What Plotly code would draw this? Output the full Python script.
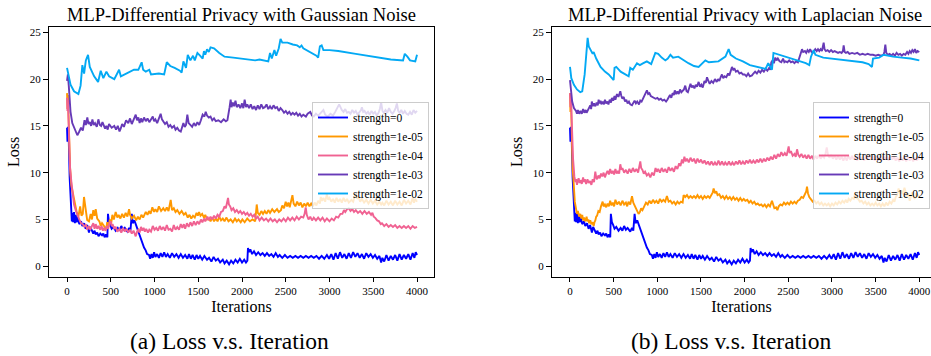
import plotly.graph_objects as go

# ---------------- data ----------------
labels = ["strength=0", "strength=1e-05", "strength=1e-04", "strength=1e-03", "strength=1e-02"]
colors = ["#0000FF", "#FF9800", "#F06292", "#673AB7", "#03A9F4"]
x_ticks = [0, 500, 1000, 1500, 2000, 2500, 3000, 3500, 4000]
y_ticks = [0, 5, 10, 15, 20, 25]
titles = ["MLP-Differential Privacy with Gaussian Noise", "MLP-Differential Privacy with Laplacian Noise"]
captions = ["(a) Loss v.s. Iteration", "(b) Loss v.s. Iteration"]

# strength=0 (no noise) - same run in both panels: (iteration, loss)
strength0 = [(0,14.8),(5,13.3),(10,14.9),(20,13.5),(30,9.5),(45,5.8),(55,4.8),(61,5.7),(70,4.7),(80,5.8),(90,4.6),(99,5.5),(110,4.7),(120,5.3),(140,4.5),(160,4.8),(175,4.3),(195,4.6),(213,4.0),(230,4.4),(251,3.6),(265,4.2),(280,3.8),(300,3.5),(315,3.8),(328,3.4),(345,3.6),(360,3.2),(380,3.5),(400,3.3),(415,3.5),(430,3.1),(445,3.4),(461,3.1),(468,5.6),(480,4.7),(495,4.4),(510,4.0),(530,4.2),(556,3.8),(580,4.1),(600,3.8),(620,4.3),(640,3.9),(660,4.1),(690,3.7),(710,4.1),(725,3.8),(740,5.6),(752,4.6),(770,4.9),(792,4.3),(810,4.0),(823,3.5),(845,3.0),(861,2.6),(880,2.0),(899,1.7),(915,1.3),(937,1.2),(950,0.8),(965,1.3),(980,0.9),(995,1.5),(1010,1.0),(1030,1.3),(1050,0.9),(1070,1.4),(1090,1.0),(1110,1.5),(1130,1.0),(1150,1.3),(1175,0.9),(1200,1.4),(1225,1.0),(1250,1.3),(1275,0.9),(1300,1.3),(1325,0.9),(1350,1.2),(1375,0.8),(1394,1.3),(1415,0.8),(1435,1.2),(1460,0.7),(1480,1.2),(1500,0.8),(1520,1.1),(1545,0.7),(1570,1.1),(1600,0.7),(1623,0.9),(1650,0.5),(1675,1.0),(1700,0.6),(1725,0.8),(1750,0.4),(1780,0.7),(1800,0.3),(1825,0.6),(1852,0.2),(1875,0.6),(1900,0.3),(1925,0.7),(1950,0.4),(1975,0.8),(2000,0.4),(2025,0.7),(2045,0.4),(2061,0.6),(2068,1.95),(2080,1.5),(2095,1.8),(2115,1.3),(2137,1.6),(2160,1.2),(2185,1.5),(2210,1.2),(2235,1.4),(2260,1.1),(2285,1.4),(2310,1.1),(2335,1.3),(2360,1.0),(2385,1.4),(2410,1.0),(2430,1.2),(2460,0.9),(2490,1.2),(2520,0.9),(2550,1.1),(2580,0.9),(2610,1.1),(2640,0.9),(2670,1.1),(2700,0.9),(2730,1.1),(2760,0.9),(2790,1.1),(2820,0.9),(2850,1.1),(2880,0.8),(2910,1.1),(2940,0.8),(2970,1.2),(2995,0.8),(3020,1.3),(3045,0.7),(3070,1.4),(3095,0.8),(3120,1.5),(3145,0.9),(3170,1.3),(3195,0.8),(3220,1.4),(3245,0.9),(3270,1.5),(3295,1.0),(3320,1.4),(3345,0.9),(3370,1.3),(3395,0.8),(3420,1.4),(3445,1.0),(3470,1.3),(3495,0.9),(3520,1.2),(3545,0.8),(3570,1.1),(3590,0.4),(3604,0.9),(3625,0.5),(3650,1.2),(3675,0.6),(3700,1.1),(3725,0.7),(3750,1.2),(3775,0.6),(3800,1.3),(3825,0.7),(3850,1.2),(3875,0.8),(3900,1.3),(3925,0.7),(3950,1.4),(3970,0.9),(3985,1.5),(4000,1.2)]

gauss_1e05 = [(0,18.5),(5,16.8),(10,18.3),(20,14.5),(35,10.5),(50,8.6),(70,7.6),(91,6.7),(110,5.8),(130,5.3),(150,6.4),(165,5.4),(180,5.6),(194,7.4),(210,6.0),(230,4.95),(251,4.8),(270,5.6),(285,5.0),(300,6.0),(315,5.4),(328,6.1),(345,5.1),(370,4.8),(385,4.3),(400,4.6),(423,4.3),(445,3.9),(460,4.7),(475,4.2),(490,5.0),(505,4.6),(518,5.5),(535,5.0),(556,5.8),(575,5.2),(590,5.5),(610,5.1),(630,5.6),(650,5.2),(670,5.7),(690,5.3),(709,6.1),(720,5.5),(740,5.1),(766,5.4),(790,4.9),(810,5.3),(830,5.0),(850,5.5),(870,5.2),(900,5.8),(920,5.5),(937,5.9),(955,5.6),(975,6.3),(995,5.8),(1010,6.1),(1030,5.8),(1050,6.4),(1075,5.9),(1100,6.2),(1120,5.9),(1140,6.3),(1160,5.9),(1185,7.1),(1200,6.0),(1220,6.2),(1240,5.8),(1260,6.0),(1285,5.6),(1310,5.9),(1335,5.5),(1356,5.7),(1380,5.2),(1400,5.5),(1420,5.1),(1440,5.4),(1460,5.2),(1480,5.7),(1495,5.4),(1509,5.8),(1525,5.4),(1545,5.6),(1565,5.2),(1580,5.5),(1600,5.0),(1623,5.1),(1640,4.8),(1660,5.2),(1680,4.8),(1700,5.1),(1720,4.8),(1740,5.3),(1760,4.9),(1780,5.1),(1800,4.8),(1820,5.2),(1845,4.8),(1870,5.0),(1895,4.7),(1920,5.1),(1940,4.8),(1960,5.0),(1985,4.7),(2004,5.0),(2030,4.7),(2060,5.1),(2090,4.8),(2120,5.0),(2150,4.8),(2168,6.6),(2180,5.7),(2200,5.5),(2220,5.9),(2240,5.6),(2260,5.9),(2280,5.6),(2300,6.0),(2320,5.7),(2345,6.1),(2370,5.8),(2400,6.1),(2420,5.8),(2445,6.0),(2460,6.5),(2480,6.2),(2499,6.9),(2515,6.4),(2530,6.8),(2545,6.3),(2560,7.0),(2576,7.6),(2590,6.7),(2610,6.4),(2630,6.9),(2650,6.5),(2670,6.8),(2690,6.3),(2710,6.7),(2730,6.4),(2750,6.8),(2770,6.4),(2790,6.7),(2810,6.4),(2830,6.8),(2850,6.5),(2870,7.0),(2890,6.7),(2900,7.4),(2915,7.0),(2930,7.3),(2950,6.9),(2970,7.7),(2985,7.1),(3000,7.3),(3020,6.9),(3040,7.2),(3060,6.8),(3080,7.3),(3100,6.9),(3120,7.2),(3140,6.8),(3160,7.3),(3180,6.9),(3200,7.2),(3220,6.8),(3250,7.1),(3270,6.9),(3300,7.8),(3315,7.2),(3330,7.4),(3350,6.9),(3370,7.2),(3395,6.8),(3420,7.1),(3445,6.7),(3470,7.1),(3495,6.7),(3520,7.0),(3545,6.6),(3570,6.9),(3590,6.6),(3604,6.8),(3625,6.5),(3650,7.0),(3675,6.6),(3700,6.9),(3725,6.5),(3750,7.0),(3775,6.6),(3800,6.9),(3825,6.5),(3850,7.1),(3875,6.7),(3900,7.0),(3925,6.6),(3950,7.3),(3965,6.8),(3980,7.2),(4000,6.9)]

gauss_1e04 = [(0,18.0),(5,16.6),(10,17.8),(20,14.0),(35,10.5),(50,9.0),(65,7.6),(80,6.6),(99,6.0),(120,5.4),(140,5.0),(160,4.6),(180,4.5),(200,4.2),(216,4.5),(232,3.9),(250,4.3),(265,3.9),(280,4.2),(300,4.6),(315,4.0),(328,4.5),(345,4.0),(360,4.3),(380,3.9),(395,4.3),(410,3.8),(423,4.1),(440,3.8),(455,4.3),(470,4.0),(485,4.6),(500,4.8),(510,4.3),(520,4.5),(540,4.0),(556,4.2),(575,3.7),(600,4.0),(620,3.6),(640,4.1),(660,3.7),(680,4.0),(700,3.6),(720,3.9),(740,3.5),(760,3.8),(785,3.2),(800,3.7),(815,3.9),(830,3.6),(845,4.2),(860,3.8),(875,4.1),(890,3.7),(905,4.0),(925,3.6),(940,3.9),(960,3.7),(980,4.3),(1000,3.9),(1020,4.1),(1040,3.8),(1060,4.3),(1080,3.9),(1100,4.2),(1120,3.8),(1140,4.4),(1160,3.9),(1180,4.0),(1200,3.7),(1220,4.4),(1240,3.9),(1260,4.2),(1280,3.9),(1300,4.5),(1318,4.1),(1335,4.5),(1350,4.0),(1370,4.6),(1390,4.2),(1410,4.7),(1430,4.3),(1450,4.8),(1470,4.4),(1490,4.8),(1510,4.5),(1530,5.0),(1547,4.7),(1565,5.1),(1580,4.8),(1604,5.3),(1620,4.9),(1640,5.3),(1660,5.0),(1680,5.4),(1700,5.1),(1720,5.5),(1740,5.3),(1760,5.8),(1780,5.9),(1800,6.4),(1815,6.2),(1830,6.8),(1840,7.3),(1850,6.6),(1865,6.4),(1880,6.0),(1900,6.2),(1920,5.8),(1940,6.0),(1960,5.7),(1980,5.9),(2000,5.6),(2020,5.8),(2040,5.5),(2060,5.7),(2080,5.4),(2100,5.6),(2120,5.3),(2140,5.5),(2160,5.1),(2180,5.3),(2200,4.9),(2225,5.2),(2250,4.9),(2275,5.1),(2300,4.8),(2325,5.1),(2350,4.8),(2375,5.0),(2400,4.7),(2425,5.0),(2450,4.8),(2475,5.1),(2500,4.8),(2525,5.2),(2550,4.9),(2575,5.2),(2600,4.9),(2625,5.3),(2650,5.0),(2675,5.3),(2700,5.2),(2715,5.6),(2728,6.3),(2740,5.5),(2760,5.0),(2780,5.3),(2800,4.9),(2820,5.2),(2845,4.9),(2870,5.2),(2895,4.9),(2920,5.2),(2945,4.8),(2970,5.1),(3000,4.8),(3025,5.1),(3050,4.9),(3075,5.3),(3100,5.2),(3125,5.6),(3147,5.6),(3165,6.0),(3180,5.8),(3200,6.1),(3220,6.2),(3240,5.9),(3261,6.1),(3280,5.8),(3300,6.0),(3325,5.7),(3350,5.9),(3375,5.6),(3400,5.9),(3425,5.6),(3450,5.8),(3475,5.5),(3490,5.7),(3505,5.3),(3520,5.2),(3545,4.9),(3566,4.8),(3585,4.5),(3600,4.6),(3625,4.3),(3650,4.5),(3675,4.2),(3700,4.4),(3725,4.2),(3750,4.4),(3775,4.1),(3800,4.3),(3825,4.1),(3850,4.3),(3875,4.1),(3900,4.3),(3925,4.0),(3950,4.3),(3975,4.1),(4000,4.2)]

gauss_1e03 = [(0,19.8),(10,20.5),(20,19.3),(40,16.5),(60,15.3),(90,14.6),(118,14.0),(140,14.4),(160,14.8),(180,14.5),(200,15.6),(215,15.1),(232,15.9),(245,15.2),(260,15.4),(275,15.0),(290,15.7),(305,15.1),(320,15.3),(340,14.9),(358,15.7),(375,15.1),(390,15.0),(405,15.4),(420,15.1),(435,14.7),(450,15.0),(465,14.6),(480,15.2),(510,14.8),(540,15.0),(560,14.6),(580,15.0),(600,14.4),(613,14.7),(630,15.2),(650,14.9),(675,15.6),(700,15.3),(720,15.8),(740,15.2),(765,15.7),(785,16.2),(800,15.6),(815,15.9),(830,15.3),(845,15.8),(860,15.4),(880,15.9),(900,15.5),(920,15.8),(940,15.4),(960,15.7),(980,16.0),(995,15.5),(1010,15.7),(1030,15.3),(1050,15.8),(1070,16.3),(1085,15.7),(1100,15.5),(1120,15.2),(1140,15.4),(1160,14.9),(1180,15.1),(1200,14.8),(1223,15.0),(1240,14.6),(1260,14.8),(1280,14.5),(1300,14.4),(1315,14.8),(1330,15.3),(1345,14.9),(1360,15.1),(1375,16.2),(1390,15.3),(1410,15.1),(1430,14.9),(1450,15.3),(1470,15.0),(1490,15.4),(1510,15.1),(1530,15.6),(1550,16.2),(1570,16.0),(1585,16.5),(1600,16.1),(1620,15.9),(1640,16.0),(1660,15.6),(1680,15.8),(1700,15.5),(1730,15.6),(1760,15.4),(1790,15.7),(1815,15.5),(1833,15.6),(1845,16.6),(1858,17.0),(1870,17.8),(1880,17.0),(1895,17.5),(1910,17.1),(1925,17.7),(1940,17.0),(1960,17.3),(1980,16.9),(2000,17.4),(2015,16.9),(2030,17.8),(2045,17.0),(2060,17.3),(2080,16.9),(2100,17.3),(2120,16.8),(2140,17.1),(2160,16.7),(2180,17.2),(2200,16.8),(2220,17.3),(2240,16.9),(2260,17.0),(2280,17.3),(2300,16.8),(2320,17.1),(2340,16.8),(2360,17.2),(2380,16.9),(2400,17.0),(2420,16.6),(2440,16.9),(2460,16.7),(2480,16.4),(2500,16.6),(2520,16.3),(2540,16.5),(2560,16.2),(2580,16.4),(2600,16.2),(2620,16.4),(2640,16.1),(2660,16.3),(2680,16.0),(2700,16.2),(2730,16.0),(2750,16.3),(2780,16.5),(2800,16.1),(2820,16.0),(2845,16.3),(2870,16.1),(2900,16.4),(2930,16.7),(2950,16.2),(2980,16.0),(3010,16.3),(3040,16.1),(3065,16.5),(3090,17.0),(3110,17.3),(3125,17.0),(3140,16.7),(3160,16.5),(3180,16.8),(3200,16.4),(3220,16.5),(3240,16.3),(3260,16.7),(3280,16.4),(3300,16.6),(3320,16.2),(3340,16.4),(3360,16.7),(3370,17.0),(3385,16.5),(3400,16.6),(3420,16.3),(3440,16.5),(3460,16.2),(3480,16.6),(3500,16.3),(3520,16.5),(3540,16.1),(3560,16.4),(3575,16.8),(3590,17.5),(3605,16.6),(3620,16.4),(3640,16.7),(3660,16.4),(3680,16.9),(3700,16.5),(3720,16.3),(3740,16.6),(3755,16.9),(3770,17.4),(3785,16.6),(3800,16.4),(3820,16.7),(3840,16.3),(3860,16.6),(3880,16.3),(3900,16.2),(3920,16.5),(3940,16.2),(3960,16.7),(3980,16.4),(4000,16.6)]

gauss_1e02 = [(0,21.2),(15,20.4),(40,19.4),(80,18.7),(130,18.4),(155,19.3),(175,21.5),(195,20.6),(215,22.0),(240,22.6),(260,21.3),(310,20.3),(355,19.7),(385,20.9),(415,20.1),(450,20.8),(480,20.3),(540,20.0),(595,21.0),(615,20.3),(710,20.7),(765,21.0),(815,21.0),(853,21.8),(870,21.0),(900,20.8),(940,21.0),(960,20.5),(1050,20.6),(1110,20.5),(1140,21.8),(1180,21.4),(1230,21.2),(1290,20.9),(1310,20.7),(1330,21.9),(1360,21.2),(1380,22.6),(1410,22.0),(1440,22.5),(1460,22.0),(1490,22.8),(1520,22.5),(1550,22.2),(1565,23.0),(1580,22.6),(1600,23.2),(1620,22.9),(1640,23.4),(1680,23.3),(1740,22.8),(1800,22.4),(1900,22.3),(2000,22.2),(2100,22.1),(2150,22.0),(2200,22.1),(2300,21.9),(2320,22.8),(2340,22.2),(2370,23.1),(2390,22.5),(2420,23.3),(2440,24.3),(2460,23.9),(2520,23.9),(2580,23.7),(2630,23.6),(2660,23.4),(2680,23.6),(2700,23.3),(2800,22.8),(2850,22.5),(2870,22.3),(2890,23.5),(2910,23.6),(2930,23.1),(3000,23.1),(3100,23.0),(3300,22.7),(3500,22.4),(3700,22.1),(3840,22.0),(3860,22.7),(3890,22.4),(3920,22.0),(3980,21.9),(4000,22.6)]

lap_1e05 = [(0,18.5),(5,16.5),(10,18.2),(20,14.0),(30,10.5),(42,8.9),(55,6.9),(70,6.1),(80,5.6),(90,5.9),(105,5.3),(118,5.6),(130,5.1),(140,5.5),(150,4.9),(160,5.2),(175,4.8),(190,5.3),(200,4.8),(210,5.0),(220,4.6),(232,4.9),(245,4.5),(260,4.7),(271,4.3),(280,4.7),(290,4.9),(300,5.3),(310,5.4),(325,5.9),(340,5.8),(355,6.4),(374,6.9),(385,6.4),(400,6.6),(415,6.3),(430,6.7),(445,6.4),(460,7.0),(475,6.5),(490,6.8),(505,6.4),(520,7.1),(540,6.6),(560,6.9),(580,6.5),(600,7.0),(620,6.6),(640,6.8),(655,6.4),(670,6.9),(690,6.6),(710,7.5),(725,6.8),(740,6.5),(755,6.2),(770,6.0),(785,5.6),(800,5.8),(815,6.2),(830,6.0),(850,6.5),(870,6.8),(890,6.6),(910,7.0),(930,6.7),(950,7.1),(970,6.8),(990,7.0),(1010,6.7),(1030,7.2),(1050,6.9),(1070,7.1),(1090,6.9),(1110,7.5),(1130,6.9),(1150,7.0),(1170,6.7),(1190,6.9),(1210,6.6),(1230,6.9),(1250,6.7),(1270,6.9),(1290,6.8),(1301,7.6),(1320,7.4),(1340,7.6),(1360,7.3),(1380,7.5),(1400,7.3),(1420,7.5),(1440,7.3),(1460,7.6),(1480,7.3),(1500,7.5),(1520,7.2),(1540,7.5),(1560,7.3),(1580,7.5),(1600,7.3),(1620,7.6),(1635,7.9),(1645,8.3),(1660,7.8),(1675,8.0),(1690,7.6),(1710,7.7),(1730,7.3),(1750,7.5),(1770,7.2),(1790,7.5),(1810,7.2),(1830,7.4),(1850,7.1),(1870,7.4),(1890,7.1),(1910,7.3),(1930,7.0),(1950,7.3),(1970,7.0),(1990,7.2),(2008,7.0),(2030,7.1),(2050,6.8),(2070,7.0),(2090,6.7),(2110,6.9),(2130,6.6),(2150,6.7),(2170,6.5),(2190,6.6),(2210,6.4),(2230,6.6),(2250,6.3),(2270,6.6),(2290,6.4),(2313,7.0),(2325,6.5),(2340,6.2),(2360,6.3),(2375,6.0),(2390,6.4),(2410,6.6),(2430,6.5),(2450,6.8),(2470,6.6),(2490,6.8),(2510,6.6),(2530,6.9),(2550,6.7),(2570,6.9),(2590,6.7),(2610,7.0),(2630,7.1),(2650,7.4),(2670,7.3),(2690,7.7),(2705,8.0),(2714,8.5),(2725,7.8),(2740,7.4),(2760,7.1),(2780,6.9),(2800,7.0),(2820,6.7),(2840,6.9),(2860,6.6),(2880,6.8),(2900,6.5),(2920,6.7),(2940,6.5),(2960,6.7),(2980,6.4),(3000,6.7),(3020,6.5),(3040,6.8),(3060,6.6),(3080,6.9),(3100,6.7),(3120,7.0),(3140,6.8),(3160,7.1),(3175,6.8),(3191,7.2),(3210,7.0),(3230,7.3),(3250,7.2),(3267,7.9),(3280,7.3),(3300,7.2),(3320,6.9),(3340,7.0),(3360,6.7),(3380,6.9),(3400,6.6),(3420,6.8),(3440,6.5),(3460,6.7),(3480,6.5),(3500,6.8),(3520,6.5),(3540,6.7),(3560,6.4),(3580,6.7),(3600,6.4),(3620,6.8),(3640,6.5),(3660,6.9),(3680,6.7),(3700,7.1),(3715,6.9),(3730,7.4),(3745,7.6),(3763,8.3),(3780,7.8),(3795,8.1),(3810,7.7),(3830,8.4),(3845,7.9),(3860,7.4),(3875,7.8),(3890,7.0),(3905,7.5),(3920,7.9),(3935,7.4),(3950,7.2),(3965,7.8),(3980,7.5),(4000,7.6)]

lap_1e04 = [(0,18.5),(5,17.0),(10,18.3),(20,15.0),(35,11.5),(50,9.6),(61,9.0),(70,9.3),(80,8.7),(90,9.2),(99,9.4),(110,8.9),(120,9.2),(135,8.8),(150,9.5),(160,9.0),(170,9.3),(185,8.8),(200,9.3),(215,8.9),(230,9.1),(245,8.7),(260,9.3),(275,9.0),(290,10.1),(300,9.5),(310,9.3),(325,9.7),(340,9.4),(355,9.9),(370,9.6),(385,10.0),(400,9.5),(415,9.9),(430,10.2),(445,9.8),(460,10.4),(475,9.9),(490,10.2),(505,9.8),(520,10.4),(535,9.9),(550,10.2),(563,9.9),(576,10.9),(590,10.3),(600,10.5),(620,10.0),(640,10.3),(660,9.9),(680,10.4),(700,10.0),(720,10.5),(740,10.1),(760,10.4),(780,10.0),(795,10.6),(805,11.2),(815,10.5),(830,10.3),(845,9.9),(860,10.1),(880,9.7),(900,9.9),(920,9.5),(940,10.0),(960,9.7),(980,10.5),(995,10.1),(1010,10.4),(1030,10.0),(1050,10.5),(1070,10.1),(1090,10.4),(1110,10.0),(1130,10.6),(1150,10.2),(1170,10.5),(1190,10.1),(1210,10.7),(1230,10.4),(1250,11.0),(1265,10.7),(1282,11.4),(1295,11.0),(1310,11.7),(1325,11.2),(1340,11.5),(1360,11.1),(1380,11.6),(1400,11.2),(1420,11.5),(1440,11.0),(1460,11.5),(1480,11.1),(1500,11.4),(1520,11.0),(1540,11.3),(1560,10.9),(1580,11.2),(1600,10.8),(1620,11.2),(1640,10.8),(1660,11.1),(1680,10.8),(1700,11.3),(1720,10.8),(1740,11.2),(1760,10.8),(1778,11.1),(1800,10.8),(1820,11.2),(1840,10.8),(1860,11.1),(1880,10.8),(1900,11.2),(1920,10.9),(1940,11.3),(1960,10.9),(1980,11.2),(2000,10.9),(2020,11.3),(2040,11.0),(2060,11.4),(2080,11.0),(2100,11.3),(2120,11.0),(2140,11.4),(2160,11.1),(2180,11.5),(2200,11.1),(2220,11.5),(2240,11.2),(2260,11.6),(2280,11.3),(2300,11.7),(2320,11.4),(2340,11.9),(2360,11.5),(2380,12.0),(2400,11.7),(2420,12.2),(2440,11.8),(2460,12.1),(2480,11.8),(2504,12.8),(2515,12.1),(2530,12.3),(2550,11.8),(2570,12.0),(2585,11.7),(2600,12.5),(2615,11.9),(2630,11.7),(2650,12.0),(2670,11.6),(2690,11.9),(2710,11.5),(2730,11.9),(2750,11.5),(2771,11.8),(2790,11.4),(2810,11.8),(2830,11.5),(2850,11.9),(2870,11.5),(2890,11.8),(2910,11.6),(2925,12.0),(2940,12.7),(2955,11.9),(2970,11.6),(2990,11.9),(3010,11.5),(3030,11.8),(3050,11.4),(3070,11.8),(3090,11.4),(3110,11.7),(3130,11.3),(3150,11.7),(3170,11.3),(3190,11.8),(3210,11.4),(3230,11.8),(3250,11.4),(3270,11.7),(3290,11.3),(3310,11.8),(3330,11.4),(3350,11.7),(3370,11.3),(3390,11.9),(3410,11.5),(3430,11.8),(3450,11.4),(3470,11.8),(3490,11.3),(3510,11.7),(3530,11.3),(3550,11.7),(3570,11.3),(3590,11.8),(3610,11.4),(3630,11.7),(3650,11.3),(3670,11.8),(3690,11.4),(3710,11.7),(3730,11.3),(3750,11.6),(3770,11.2),(3790,11.7),(3810,11.3),(3830,11.6),(3850,11.2),(3870,11.7),(3890,11.3),(3910,11.6),(3930,11.2),(3950,11.6),(3970,11.3),(3985,11.6),(4000,11.4)]

lap_1e03 = [(0,19.9),(10,19.2),(25,17.6),(45,16.9),(69,16.6),(80,16.3),(90,16.7),(105,16.3),(120,16.6),(135,16.3),(150,16.8),(165,16.4),(180,16.7),(190,16.4),(200,16.6),(215,16.9),(232,17.2),(242,16.8),(250,17.6),(262,17.1),(275,17.4),(290,17.1),(305,17.5),(318,17.2),(328,17.8),(340,17.4),(350,17.7),(360,17.3),(375,17.6),(390,17.3),(400,17.8),(415,17.4),(430,17.6),(440,17.3),(455,17.8),(470,17.5),(480,18.0),(495,17.7),(510,18.2),(520,17.8),(538,18.4),(555,18.1),(576,18.7),(588,18.2),(600,17.9),(615,18.1),(630,17.6),(645,17.8),(660,17.4),(675,17.6),(690,17.3),(710,17.2),(725,17.5),(740,17.7),(755,17.4),(770,17.6),(790,17.3),(805,17.7),(820,17.6),(835,17.9),(850,18.1),(866,18.4),(881,18.8),(895,18.4),(910,18.5),(925,18.2),(940,18.1),(960,18.0),(980,17.9),(1000,18.0),(1020,17.8),(1040,17.9),(1060,17.7),(1080,17.8),(1100,17.6),(1115,17.8),(1130,18.0),(1145,18.3),(1160,18.0),(1175,18.5),(1190,18.3),(1200,18.8),(1215,18.4),(1230,18.7),(1245,18.4),(1260,18.9),(1275,18.6),(1290,18.8),(1305,18.9),(1320,19.3),(1335,18.7),(1350,18.6),(1365,19.0),(1380,19.5),(1395,19.1),(1410,19.3),(1425,19.0),(1440,19.4),(1455,19.2),(1473,19.7),(1490,19.2),(1505,19.4),(1520,19.1),(1540,19.8),(1555,19.6),(1569,20.2),(1585,19.8),(1600,19.5),(1620,19.8),(1640,19.6),(1660,20.0),(1680,19.7),(1695,20.0),(1710,19.8),(1725,20.2),(1740,20.5),(1755,20.1),(1770,20.3),(1790,20.2),(1810,20.6),(1825,20.4),(1840,20.9),(1855,21.3),(1870,21.0),(1885,21.1),(1900,20.8),(1920,20.9),(1940,20.6),(1960,20.7),(1980,20.5),(2000,20.5),(2020,20.3),(2040,20.6),(2060,20.3),(2084,20.4),(2100,20.6),(2120,20.8),(2140,20.6),(2160,20.9),(2180,20.7),(2200,21.0),(2220,20.8),(2240,21.1),(2260,20.9),(2280,21.2),(2294,21.0),(2305,21.8),(2320,22.0),(2335,21.7),(2351,22.3),(2365,22.0),(2380,22.2),(2400,21.9),(2420,21.8),(2440,22.2),(2455,21.8),(2470,21.9),(2490,21.8),(2510,22.0),(2530,21.8),(2550,21.9),(2570,21.7),(2590,21.9),(2610,21.8),(2630,22.5),(2645,22.9),(2657,23.2),(2670,22.9),(2690,23.0),(2705,22.8),(2720,23.1),(2735,22.9),(2750,23.2),(2765,22.9),(2780,22.8),(2795,23.0),(2809,23.2),(2825,23.0),(2840,23.2),(2855,23.0),(2870,23.2),(2885,23.0),(2895,23.4),(2905,23.9),(2915,23.2),(2930,23.0),(2950,23.1),(2970,22.9),(2990,23.1),(3010,22.9),(3030,23.0),(3050,22.9),(3070,22.8),(3090,22.9),(3110,22.8),(3125,23.0),(3134,23.6),(3145,22.9),(3160,22.8),(3180,22.9),(3200,22.7),(3230,22.8),(3260,22.7),(3290,22.8),(3320,22.6),(3350,22.7),(3380,22.6),(3410,22.7),(3440,22.6),(3470,22.6),(3500,22.5),(3530,22.6),(3560,22.5),(3590,22.6),(3600,22.9),(3611,23.7),(3622,22.8),(3640,22.6),(3660,22.7),(3680,22.5),(3700,22.7),(3720,22.5),(3740,22.8),(3760,22.6),(3780,22.7),(3800,22.5),(3820,22.7),(3840,22.6),(3860,22.9),(3875,22.7),(3890,23.0),(3905,22.8),(3920,23.1),(3935,22.9),(3950,23.2),(3965,22.8),(3980,23.0),(4000,22.9)]

lap_1e02 = [(0,21.3),(15,20.1),(45,19.4),(80,18.9),(118,18.6),(140,18.7),(168,20.5),(185,22.8),(202,24.4),(215,23.5),(240,23.0),(260,22.7),(271,22.9),(300,22.2),(350,21.3),(400,20.8),(443,20.5),(500,19.9),(510,21.2),(530,21.3),(580,20.8),(640,20.5),(672,20.3),(690,21.2),(720,21.0),(767,21.7),(800,21.5),(840,21.7),(880,21.9),(930,21.6),(977,22.8),(1010,22.7),(1050,22.3),(1092,22.0),(1120,22.2),(1150,22.6),(1180,22.3),(1240,22.4),(1300,22.0),(1356,21.7),(1420,21.4),(1473,21.3),(1550,22.0),(1590,21.8),(1700,21.9),(1780,22.4),(1817,23.2),(1840,22.6),(1900,22.2),(1980,21.9),(2060,21.5),(2140,21.3),(2199,21.2),(2240,21.1),(2270,21.7),(2313,21.0),(2330,22.8),(2400,22.6),(2500,22.3),(2600,22.0),(2700,21.7),(2740,21.5),(2760,22.4),(2790,23.1),(2810,22.6),(2900,22.3),(3000,22.2),(3100,22.1),(3229,22.0),(3350,21.8),(3420,21.6),(3458,21.3),(3470,22.2),(3540,22.3),(3592,22.6),(3700,22.4),(3800,22.3),(3900,22.2),(4000,22.0)]

gauss_series = [strength0, gauss_1e05, gauss_1e04, gauss_1e03, gauss_1e02]
lap_series = [strength0, lap_1e05, lap_1e04, lap_1e03, lap_1e02]

# ---------------- figure ----------------
# The page's default 8px body margin is removed (post_script below), so the
# figure fills the whole 931x356 window and positions are window pixels.
W, H = 931, 356
FONT = "Liberation Serif, Times New Roman, Times, serif"


def px(x):
    return x / W


def py(y):
    return 1 - y / H


fig = go.Figure()
for panel, series in enumerate([gauss_series, lap_series]):
    suffix = "" if panel == 0 else "2"
    for pts, lab, col in zip(series, labels, colors):
        fig.add_trace(go.Scatter(
            x=[p[0] for p in pts], y=[p[1] for p in pts],
            mode="lines", name=lab,
            line=dict(color=col, width=1.9),
            xaxis="x" + suffix, yaxis="y" + suffix,
            legend="legend" + suffix,
        ))

ydom = [py(277), py(27)]
common_x = dict(tickvals=x_ticks, ticks="outside", ticklen=4, tickwidth=1, tickcolor="black",
                showline=True, linecolor="black", linewidth=1, mirror=True, automargin=False,
                showgrid=False, zeroline=False, tickfont=dict(size=11, family=FONT, color="black"),
                title=dict(text="Iterations", font=dict(size=16, family=FONT, color="black"), standoff=4))
common_y = dict(tickvals=y_ticks, range=[-1.15, 25.57], ticks="outside", ticklen=5, tickwidth=1,
                tickcolor="black", showline=True, linecolor="black", linewidth=1, automargin=False,
                showgrid=False, zeroline=False, domain=ydom,
                tickfont=dict(size=11, family=FONT, color="black"),
                title=dict(text="Loss", font=dict(size=16, family=FONT, color="black"), standoff=6))

legend_style = dict(font=dict(size=11.5, family=FONT, color="black"),
                    bgcolor="rgba(255,255,255,0.8)", bordercolor="#cccccc", borderwidth=1,
                    itemwidth=30, tracegroupgap=0, yanchor="top")

fig.update_layout(
    width=W, height=H, margin=dict(l=0, r=0, t=0, b=0, autoexpand=False),
    paper_bgcolor="white", plot_bgcolor="white",
    font=dict(family=FONT, color="black"),
    xaxis=dict(common_x, domain=[px(49), px(434)], range=[-206, 4194], anchor="y"),
    yaxis=dict(common_y, anchor="x", mirror=True),
    xaxis2=dict(common_x, domain=[px(552), 1.0], range=[-206, 4134], anchor="y2"),
    yaxis2=dict(common_y, anchor="x2", mirror=False),
    legend=dict(legend_style, x=px(429), xanchor="right", y=py(102)),
    legend2=dict(legend_style, x=px(930), xanchor="right", y=py(102)),
    showlegend=True,
)

title_x = [px(241.5), px(744.5)]
caption_x = [px(229), px(731)]
for i in range(2):
    fig.add_annotation(text=titles[i], xref="paper", yref="paper", x=title_x[i], y=py(15),
                       xanchor="center", yanchor="middle", showarrow=False, borderpad=0,
                       font=dict(size=18.5, family=FONT, color="black"))
    fig.add_annotation(text=captions[i], xref="paper", yref="paper", x=caption_x[i], y=py(341),
                       xanchor="center", yanchor="middle", showarrow=False, borderpad=0,
                       font=dict(size=23.5, family=FONT, color="black"))

fig.write_html("out.html", config={"displayModeBar": False},
               post_script="document.body.style.margin='0';document.body.style.overflow='hidden';")
